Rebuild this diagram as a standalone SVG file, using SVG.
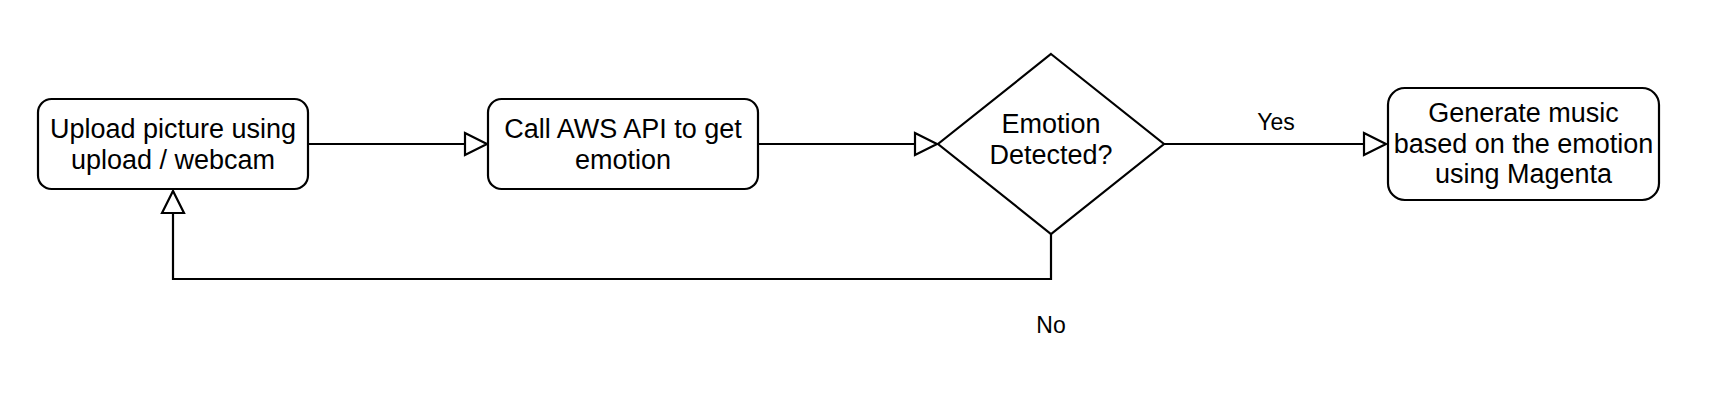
<svg xmlns="http://www.w3.org/2000/svg" width="1714" height="417" viewBox="0 0 1714 417">
  <style>
    .node { fill: #ffffff; stroke: #000000; stroke-width: 2.2; }
    .edge { fill: none; stroke: #000000; stroke-width: 2.2; }
    .t { font-family: "Liberation Sans", Arial, sans-serif; font-size: 27px; fill: #000000; text-anchor: middle; }
    .lbl { font-family: "Liberation Sans", Arial, sans-serif; font-size: 23px; fill: #000000; text-anchor: middle; }
  </style>
  <defs>
    <marker id="open" markerUnits="userSpaceOnUse" markerWidth="24" markerHeight="24" viewBox="-1 -1 24 24" refX="22" refY="11" orient="auto" overflow="visible">
      <path d="M0,0 L22,11 L0,22 Z" fill="#ffffff" stroke="#000000" stroke-width="2.2"/>
    </marker>
  </defs>
  <rect width="1714" height="417" fill="#ffffff"/>
  <g id="connectors">
    <path class="edge" d="M308,144 L487,144" marker-end="url(#open)"/>
    <path class="edge" d="M758,144 L937,144" marker-end="url(#open)"/>
    <path class="edge" d="M1164,144 L1386,144" marker-end="url(#open)"/>
    <path class="edge" d="M1051,234 L1051,279 L173,279 L173,191" marker-end="url(#open)"/>
    <text class="lbl" x="1276" y="130">Yes</text>
    <text class="lbl" x="1051" y="333">No</text>
  </g>
  <g id="upload">
    <rect class="node" x="38" y="99" width="270" height="90" rx="13.5" ry="13.5"/>
    <text class="t" x="173" y="138">Upload picture using</text>
    <text class="t" x="173" y="169">upload / webcam</text>
  </g>
  <g id="aws">
    <rect class="node" x="488" y="99" width="270" height="90" rx="13.5" ry="13.5"/>
    <text class="t" x="623" y="138">Call AWS API to get</text>
    <text class="t" x="623" y="169">emotion</text>
  </g>
  <g id="decision">
    <polygon class="node" points="1051,54 1164,144 1051,234 938,144"/>
    <text class="t" x="1051" y="133">Emotion</text>
    <text class="t" x="1051" y="164">Detected?</text>
  </g>
  <g id="generate">
    <rect class="node" x="1388" y="88" width="271" height="112" rx="16.8" ry="16.8"/>
    <text class="t" x="1523.5" y="122">Generate music</text>
    <text class="t" x="1523.5" y="152.5">based on the emotion</text>
    <text class="t" x="1523.5" y="183">using Magenta</text>
  </g>
</svg>
